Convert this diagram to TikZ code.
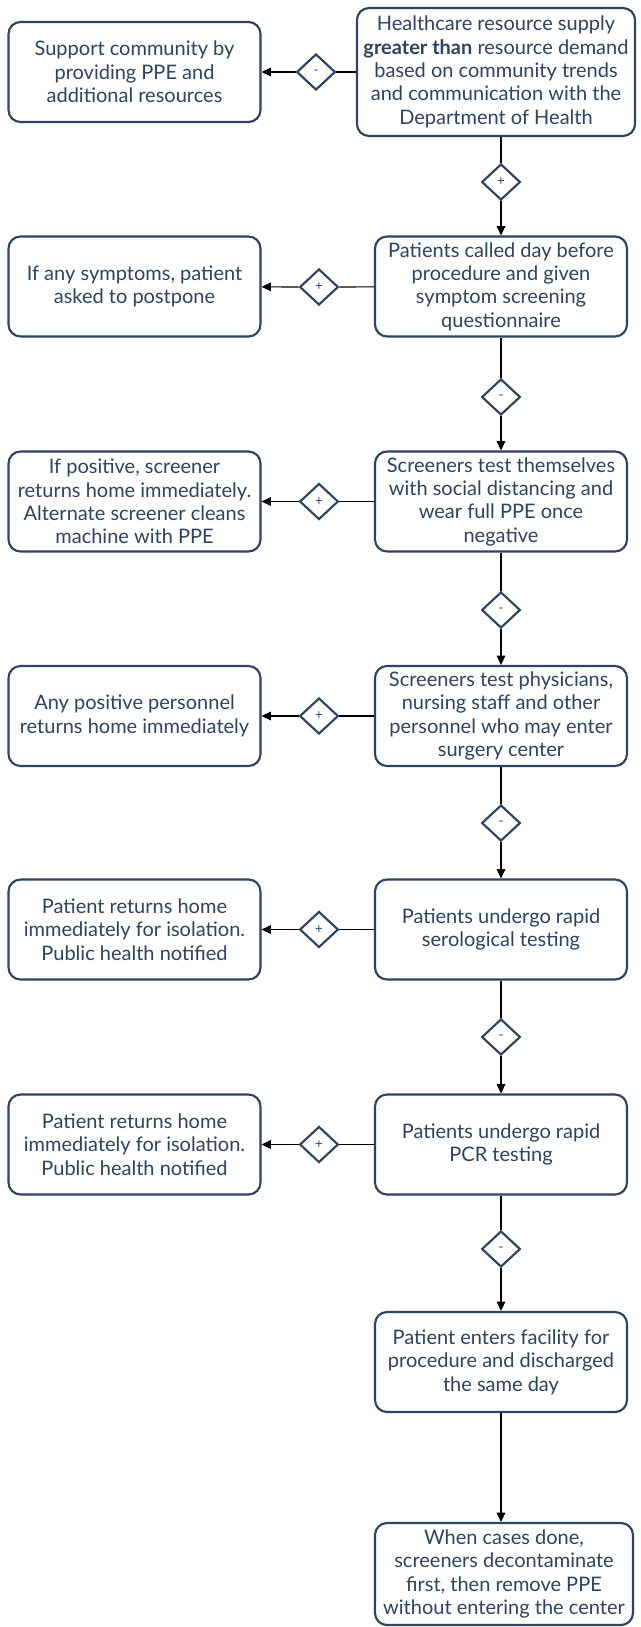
\documentclass[tikz,border=0pt]{standalone}
\usepackage{fontspec}
\setmainfont{Lato}
\usetikzlibrary{shapes.geometric,arrows.meta}
\definecolor{navy}{RGB}{45,67,96}
\begin{document}
\begin{tikzpicture}[x=0.75pt,y=0.75pt,yscale=-1,xscale=1,
	stepbox/.style={draw=navy,line width=1.6pt,rounded corners=9pt,fill=white,text=navy,align=center,minimum width=189pt,minimum height=75pt,inner sep=2pt,font=\fontsize{15}{17.5}\selectfont},
	gate/.style={diamond,draw=navy,line width=1.6pt,minimum width=29pt,minimum height=27pt,inner sep=0pt,text=navy,font=\fontsize{10}{10}\selectfont},
	flow/.style={line width=0.9pt,-{Triangle[length=7pt,width=6.5pt]}},
	link/.style={line width=0.9pt}]
	\useasboundingbox (0,0) rectangle (641,1627);

	\node [stepbox] (community) at (134.5,72) {Support community by\\providing PPE and\\additional resources};
	\node [stepbox,minimum width=208.5pt,minimum height=96pt] (supply) at (496,72) {Healthcare resource supply\\\textbf{greater than} resource demand\\based on community trends\\and communication with the\\Department of Health};
	\node [gate] (g0) at (316,72) {-};
	\node [gate] (g1) at (501,182) {+};

	\node [stepbox] (called) at (501,286.5) {Patients called day before\\procedure and given\\symptom screening\\questionnaire};
	\node [stepbox] (postpone) at (134.5,286.5) {If any symptoms, patient\\asked to postpone};
	\node [gate] (h1) at (319,287) {+};
	\node [gate] (g2) at (501,397) {-};

	\node [stepbox] (selftest) at (501,501.5) {Screeners test themselves\\with social distancing and\\wear full PPE once\\negative};
	\node [stepbox] (screener) at (134.5,501.5) {If positive, screener\\returns home immediately.\\Alternate screener cleans\\machine with PPE};
	\node [gate] (h2) at (319,501.5) {+};
	\node [gate] (g3) at (501,610) {-};

	\node [stepbox] (staff) at (501,716) {Screeners test physicians,\\nursing staff and other\\personnel who may enter\\surgery center};
	\node [stepbox] (personnel) at (134.5,716) {Any positive personnel\\returns home immediately};
	\node [gate] (h3) at (319,716) {+};
	\node [gate] (g4) at (501,823) {-};

	\node [stepbox] (sero) at (501,929.5) {Patients undergo rapid\\serological testing};
	\node [stepbox] (isoA) at (134.5,929.5) {Patient returns home\\immediately for isolation.\\Public health notified};
	\node [gate] (h4) at (319,929.5) {+};
	\node [gate] (g5) at (501,1037) {-};

	\node [stepbox] (pcr) at (501,1144.5) {Patients undergo rapid\\PCR testing};
	\node [stepbox] (isoB) at (134.5,1144.5) {Patient returns home\\immediately for isolation.\\Public health notified};
	\node [gate] (h5) at (319,1144.5) {+};
	\node [gate] (g6) at (501,1249) {-};

	\node [stepbox] (enter) at (501,1362) {Patient enters facility for\\procedure and discharged\\the same day};
	\node [stepbox,minimum width=193.5pt,minimum height=76.5pt] (decon) at (504,1574) {When cases done,\\screeners decontaminate\\first, then remove PPE\\without entering the center};

	\draw [link] (supply) -- (g0);
	\draw [flow] (g0) -- (community);
	\draw [link] (g1 |- supply.south) -- (g1);
	\draw [flow] (g1) -- (called);
	\draw [link] (called) -- (h1);
	\draw [flow] (h1) -- (postpone);
	\draw [link] (called) -- (g2);
	\draw [flow] (g2) -- (selftest);
	\draw [link] (selftest) -- (h2);
	\draw [flow] (h2) -- (screener);
	\draw [link] (selftest) -- (g3);
	\draw [flow] (g3) -- (staff);
	\draw [link] (staff) -- (h3);
	\draw [flow] (h3) -- (personnel);
	\draw [link] (staff) -- (g4);
	\draw [flow] (g4) -- (sero);
	\draw [link] (sero) -- (h4);
	\draw [flow] (h4) -- (isoA);
	\draw [link] (sero) -- (g5);
	\draw [flow] (g5) -- (pcr);
	\draw [link] (pcr) -- (h5);
	\draw [flow] (h5) -- (isoB);
	\draw [link] (pcr) -- (g6);
	\draw [flow] (g6) -- (enter);
	\draw [flow] (enter) -- (enter |- decon.north);
\end{tikzpicture}
\end{document}
